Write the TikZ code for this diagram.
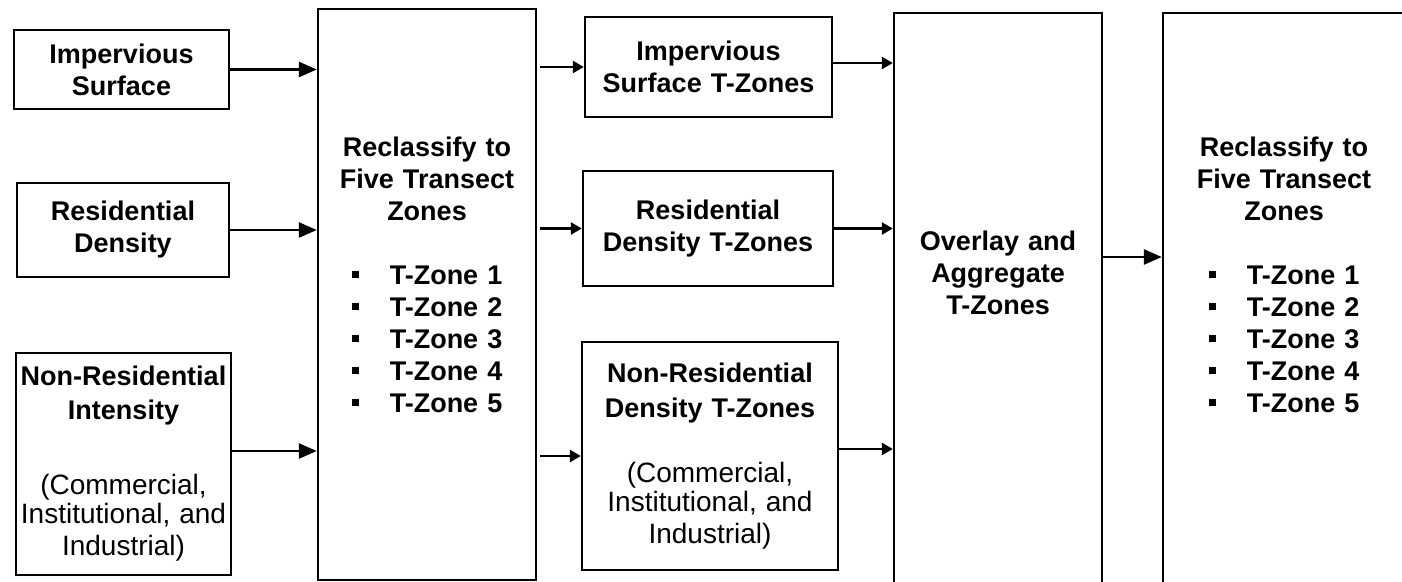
\documentclass[tikz,border=0pt]{standalone}
\usepackage{fontspec}
\setmainfont{Liberation Sans}
\usetikzlibrary{arrows.meta}
\newcommand{\rmtxt}{\fontsize{28}{29}\selectfont\mdseries}
\newcommand{\tzb}{\rule[7pt]{7pt}{7pt}}
\newcommand{\tzlist}{\begin{tabular}[t]{@{}l@{\hspace{31pt}}l@{}}
  \tzb & T-Zone 1\\ \tzb & T-Zone 2\\ \tzb & T-Zone 3\\ \tzb & T-Zone 4\\ \tzb & T-Zone 5
\end{tabular}}

\begin{document}
\begin{tikzpicture}[x=1pt,y=-1pt,
  font=\fontsize{27}{32}\selectfont\bfseries,
  box/.style={draw,line width=2.4pt,inner sep=0pt,align=center},
  txt/.style={inner sep=0pt,align=center},
  arr/.style={-{Triangle[length=18pt,width=15pt]},line width=2.6pt},
  arrs/.style={-{Triangle[length=11pt,width=12pt]},line width=2.6pt}]
\useasboundingbox (0,0) rectangle (1402,581);
\clip (0,0) rectangle (1402,581);
% inputs
\node[box,minimum width=215pt,minimum height=79pt,text width=211pt] (imp) at (121.5,69.5) {Impervious\\Surface};
\node[box,minimum width=212pt,minimum height=94pt,text width=208pt] (res) at (123,230) {Residential\\Density};
\node[box,minimum width=215pt,minimum height=222pt,text width=213pt] (nonres) at (123.5,464)
  {Non-Residential\\[2pt]Intensity\\[46pt]\rmtxt(Commercial,\\Institutional, and\\Industrial)};
% reclassify
\node[box,minimum width=218pt,minimum height=571pt] (recl) at (427,294.5) {};
\node[txt,text width=214pt] (recltxt) at (427,280) {Reclassify to\\Five Transect\\Zones\\[32pt]\tzlist};
% t-zones per input
\node[box,minimum width=247pt,minimum height=100pt,text width=240pt] (impz) at (708.5,67) {Impervious\\Surface T-Zones};
\node[box,minimum width=250pt,minimum height=115pt,text width=244pt] (resz) at (708,228.5) {Residential\\Density T-Zones};
\node[box,minimum width=256pt,minimum height=228pt,text width=250pt] (nonresz) at (710,456)
  {Non-Residential\\[3pt]Density T-Zones\\[36pt]\rmtxt(Commercial,\\Institutional, and\\Industrial)};
% overlay
\node[box,minimum width=208pt,minimum height=627pt] (ovl) at (998,326.5) {};
\node[txt,text width=204pt] (ovltxt) at (998,273) {Overlay and\\Aggregate\\T-Zones};
% final
\node[box,minimum width=297pt,minimum height=627pt] (fin) at (1311.5,326.5) {};
\node[txt,text width=214pt] (fintxt) at (1284,280) {Reclassify to\\Five Transect\\Zones\\[32pt]\tzlist};
% arrows
\draw[arr] (imp.east) -- (imp.east -| recl.west);
\draw[arr] (res.east) -- (res.east -| recl.west);
\draw[arr] ([yshift=13pt]nonres.east) -- ([yshift=13pt]nonres.east -| recl.west);
\draw[arrs] ([xshift=3pt]impz.west -| recl.east) -- (impz.west);
\draw[arrs] ([xshift=3pt]resz.west -| recl.east) -- (resz.west);
\draw[arrs] ([xshift=3pt]nonresz.west -| recl.east) -- (nonresz.west);
\draw[arrs] ([yshift=4pt]impz.east) -- ([yshift=4pt]impz.east -| ovl.west);
\draw[arrs] (resz.east) -- (resz.east -| ovl.west);
\draw[arrs] ([yshift=7pt]nonresz.east) -- ([yshift=7pt]nonresz.east -| ovl.west);
\draw[arr] ([yshift=69.5pt]ovl.east) -- ([yshift=69.5pt]fin.west);
\end{tikzpicture}
\end{document}
